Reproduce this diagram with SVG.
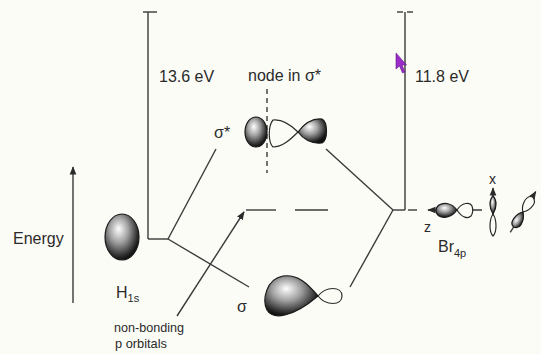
<svg xmlns="http://www.w3.org/2000/svg" width="541" height="354" viewBox="0 0 541 354">
  <style>
    .ln { stroke: #3a3a3a; stroke-width: 1.4; fill: none; }
    .dash { stroke: #3a3a3a; stroke-width: 1.4; fill: none; stroke-dasharray: 5 4; }
    .lbl { font-family: "Liberation Sans", Arial, sans-serif; font-size: 16px; fill: #2a2a2a; }
    .sub { font-family: "Liberation Sans", Arial, sans-serif; font-size: 11px; fill: #2a2a2a; }
    .axis { font-family: "Liberation Sans", Arial, sans-serif; font-size: 14px; fill: #2a2a2a; }
    .small { font-family: "Liberation Sans", Arial, sans-serif; font-size: 13px; fill: #2a2a2a; }
    .shade { fill: url(#sphere); stroke: #1a1a1a; stroke-width: 1.2; }
    .open { fill: #fcfcf7; stroke: #2a2a2a; stroke-width: 1.2; }
  </style>
  <defs>
    <radialGradient id="sphere" cx="0.42" cy="0.38" r="0.62" fx="0.4" fy="0.32">
      <stop offset="0" stop-color="#ffffff"/>
      <stop offset="0.45" stop-color="#a0a0a0"/>
      <stop offset="0.85" stop-color="#333333"/>
      <stop offset="1" stop-color="#101010"/>
    </radialGradient>
    <marker id="arr" viewBox="0 0 10 10" refX="9" refY="5" markerWidth="6" markerHeight="6" orient="auto-start-reverse">
      <path d="M0,1 L10,5 L0,9 Z" fill="#2a2a2a"/>
    </marker>
  </defs>

  <rect width="541" height="354" fill="#fcfcf7"/>

  <!-- energy axis -->
  <g id="energy-axis">
    <line class="ln" x1="73" y1="303" x2="73" y2="167" marker-end="url(#arr)"/>
    <text class="lbl" x="13" y="244">Energy</text>
  </g>

  <!-- H 1s orbital -->
  <g id="h1s">
    <ellipse class="shade" cx="122" cy="237" rx="17" ry="23"/>
    <text class="lbl" x="116" y="298">H<tspan class="sub" dy="4">1s</tspan></text>
  </g>

  <!-- connectors and level lines -->
  <g id="connectors">
    <!-- H side ionisation bar -->
    <line class="ln" x1="143" y1="12" x2="157" y2="12"/>
    <line class="ln" x1="148" y1="12" x2="148" y2="239"/>
    <line class="ln" x1="148" y1="239" x2="168" y2="239"/>
    <line class="ln" x1="168" y1="239" x2="216" y2="149"/>
    <line class="ln" x1="168" y1="239" x2="249" y2="287"/>
    <!-- Br side ionisation bar -->
    <line class="ln" x1="397" y1="12" x2="403" y2="12"/>
    <line class="ln" x1="407" y1="12" x2="413" y2="12"/>
    <line class="ln" x1="405" y1="12" x2="405" y2="210"/>
    <line class="ln" x1="393" y1="210" x2="405" y2="210"/>
    <line class="ln" x1="408" y1="210" x2="417" y2="210"/>
    <line class="ln" x1="326" y1="149" x2="393" y2="210"/>
    <line class="ln" x1="393" y1="210" x2="350" y2="287"/>
    <!-- non-bonding levels -->
    <line class="ln" x1="246" y1="210" x2="276" y2="210"/>
    <line class="ln" x1="295" y1="210" x2="328" y2="210"/>
    <line class="ln" x1="177" y1="316" x2="244" y2="212" marker-end="url(#arr)"/>
  </g>

  <!-- energy labels -->
  <g id="labels">
    <text class="lbl" x="159" y="82">13.6 eV</text>
    <text class="lbl" x="415" y="82">11.8 eV</text>
    <text class="lbl" x="248" y="81">node in σ*</text>
  </g>

  <!-- antibonding sigma* orbital -->
  <g id="sigma-star">
    <text class="lbl" x="214" y="138">σ*</text>
    <line class="dash" x1="267" y1="89" x2="267" y2="173"/>
    <ellipse class="shade" cx="256" cy="132" rx="11" ry="15"/>
    <path class="open" d="M298,132 C290,124 282,119 273,120 C268,126 268,142 273,147 C282,147 290,140 298,132 Z"/>
    <path class="shade" d="M298,132 C304,124 312,118 322,119 C328,122 328,140 322,143 C312,144 304,140 298,132 Z"/>
  </g>

  <!-- bonding sigma orbital -->
  <g id="sigma">
    <text class="lbl" x="237" y="312">σ</text>
    <path class="shade" d="M318,296 C308,284 298,274 283,276 C266,279 262,300 267,310 C273,320 292,318 318,296 Z"/>
    <path class="open" d="M318,296 C326,286 342,286 342,296 C342,306 326,306 318,296 Z"/>
  </g>

  <!-- non-bonding label -->
  <g id="nonbonding">
    <text class="small" x="114" y="332" textLength="70" lengthAdjust="spacingAndGlyphs">non-bonding</text>
    <text class="small" x="115" y="348" textLength="52" lengthAdjust="spacingAndGlyphs">p orbitals</text>
  </g>

  <!-- Br 4p orbitals -->
  <g id="br4p">
    <line class="ln" x1="482" y1="210" x2="428" y2="210" marker-end="url(#arr)"/>
    <path class="shade" d="M457,210 C452,203 444,202 439,205 C435,208 435,213 439,216 C444,219 452,217 457,210 Z"/>
    <path class="open" d="M457,210 C462,202 470,202 472,206 C473,209 473,213 471,216 C468,219 462,218 457,210 Z"/>
    <text class="axis" x="424" y="232">z</text>
    <text class="lbl" x="438" y="252">Br<tspan class="sub" dy="5">4p</tspan></text>

    <line class="ln" x1="493" y1="236" x2="493" y2="188" marker-end="url(#arr)"/>
    <path class="shade" d="M493,214 C489,208 489,200 493,196 C497,200 497,208 493,214 Z"/>
    <path class="open" d="M493,214 C489,220 489,232 493,236 C497,232 497,220 493,214 Z"/>
    <text class="axis" x="489" y="184">x</text>

    <g transform="translate(523,212) rotate(-58)">
      <line class="ln" x1="-24" y1="0" x2="24" y2="0" marker-end="url(#arr)"/>
      <path class="shade" d="M0,0 C-5,-5 -14,-6 -17,-2 C-19,1 -16,5 -12,5 C-7,5 -3,3 0,0 Z"/>
      <path class="open" d="M0,0 C4,-5 14,-6 17,-2 C19,1 16,5 12,5 C7,5 3,3 0,0 Z"/>
    </g>
  </g>

  <!-- pointer -->
  <path d="M396,53 L396,69 L399.5,66 L402.5,73 L405,72 L402,65 L406.5,65 Z" fill="#9b2cc9" stroke="#5a1a80" stroke-width="0.6"/>
</svg>
